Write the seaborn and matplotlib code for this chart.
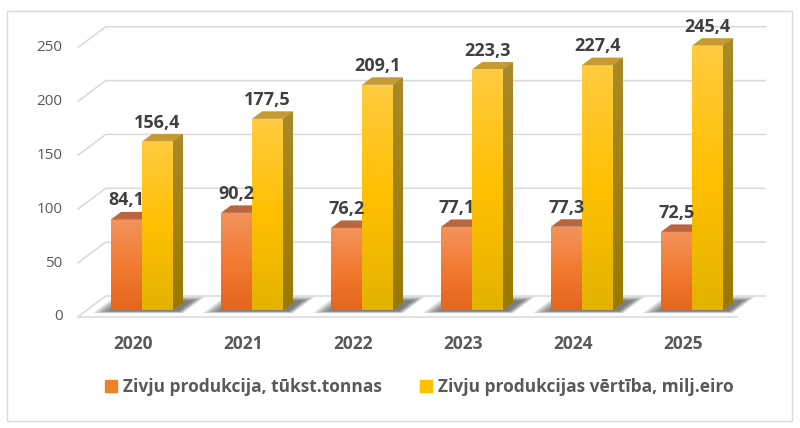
import matplotlib
matplotlib.use('Agg')
import matplotlib.pyplot as plt
import numpy as np
import pandas as pd
import seaborn as sns
from matplotlib.colors import LinearSegmentedColormap
from matplotlib.patches import Patch, Polygon, Rectangle

# chart data
years = ['2020', '2021', '2022', '2023', '2024', '2025']
production = [84.1, 90.2, 76.2, 77.1, 77.3, 72.5]
value = [156.4, 177.5, 209.1, 223.3, 227.4, 245.4]
series = ['Zivju produkcija, tūkst.tonnas', 'Zivju produkcijas vērtība, milj.eiro']
y_ticks = [0, 50, 100, 150, 200, 250]

# colours
orange, yellow = '#F07F2A', '#FFC000'
front_grad = [['#F3935C', '#F27B32', '#E5661C'], ['#FFCB40', '#FFC000', '#E3B300']]
top_col = ['#B9663E', '#C49B30']
side_grad = ['#A88A28', '#9A7900']
grid_col = '#D9D9D9'
text_dark, text_grey = '#404040', '#595959'

# pseudo 3d geometry (depth vector in data units, bar depth slot)
DX, DY = 28 / 110, 21 / 1.077
D0, D1 = 0.333, 0.69


def proj(x, v, d):
    return x + (d - D0) * DX, v + (d - D0) * DY


df = pd.DataFrame({
    'year': years * 2,
    'val': production + value,
    'series': [series[0]] * len(years) + [series[1]] * len(years),
})

sns.set_theme(style='white')
plt.rcParams['font.family'] = ['Open Sans', 'DejaVu Sans']

fig = plt.figure(figsize=(8, 4.28), dpi=100)
ax = fig.add_axes([0, 0, 1, 1])
sns.barplot(data=df, x='year', y='val', hue='series', palette=[orange, yellow],
            width=0.564, saturation=1, errorbar=None, legend=False, ax=ax,
            zorder=3)

x_lo, x_hi = -0.5, len(years) - 0.5

# back wall and left wall grid lines
for t in y_ticks:
    bx0, by = proj(x_lo, t, 1)
    bx1, _ = proj(x_hi, t, 1)
    fx, fy = proj(x_lo, t, 0)
    ax.plot([fx, bx0, bx1], [fy, by, by], color=grid_col, lw=1.1, zorder=1)
    ax.annotate(str(t), xy=(fx, fy), xytext=(-15, 0), textcoords='offset pixels',
                ha='right', va='center', fontsize=11, color=text_grey)
fx0, fy0 = proj(x_lo, 0, 0)
fx1, _ = proj(x_hi, 0, 0)
ax.plot([fx0, fx1], [fy0, fy0], color=grid_col, lw=1.1, zorder=1)

# soft shadow under each bar pair (stacked translucent layers)
for i in range(len(years)):
    for g in np.linspace(1.0, 0.05, 10):
        xl = i - 0.282 - 0.13 * g
        xr = i + 0.282 + 0.06 + 0.07 * g
        dl = D0 - 0.05 - 0.1 * g
        dh = min(1.0, D1 + 0.08 + 0.2 * g)
        pts = [proj(xl, 0, dl), proj(xr, 0, dl),
               proj(xr, 0, dh), proj(xl, 0, dh)]
        ax.add_patch(Polygon(pts, closed=True, color='#1E1E1E', alpha=0.08,
                             lw=0, zorder=2))

# gradients, top and side faces of the bars
for s, cont in enumerate(ax.containers):
    cmap = LinearSegmentedColormap.from_list('f%d' % s, front_grad[s][::-1])
    scmap = LinearSegmentedColormap.from_list('s%d' % s, side_grad[::-1])
    for bar in cont:
        x0, w, h = bar.get_x(), bar.get_width(), bar.get_height()
        bar.set_zorder(3 + s)
        bar.set_edgecolor('none')
        grad = np.linspace(0, 1, 64).reshape(-1, 1)
        im = ax.imshow(grad, extent=(x0, x0 + w, 0, h), origin='lower',
                       cmap=cmap, aspect='auto', zorder=3 + s + 0.1)
        im.set_clip_path(bar)
        top = [proj(x0, h, D0), proj(x0 + w, h, D0),
               proj(x0 + w, h, D1), proj(x0, h, D1)]
        ax.add_patch(Polygon(top, closed=True, color=top_col[s], lw=0,
                             zorder=3 + s + 0.2))
        if s == 1:
            side = [proj(x0 + w, 0, D0), proj(x0 + w, h, D0),
                    proj(x0 + w, h, D1), proj(x0 + w, 0, D1)]
            sp = Polygon(side, closed=True, color=side_grad[0], lw=0,
                         zorder=3 + s + 0.3)
            ax.add_patch(sp)
            sx = [p[0] for p in side]
            sy = [p[1] for p in side]
            sim = ax.imshow(grad, extent=(min(sx), max(sx), min(sy), max(sy)),
                            origin='lower', cmap=scmap, aspect='auto',
                            zorder=3 + s + 0.31)
            sim.set_clip_path(sp)
        ax.annotate(f'{h:.1f}'.replace('.', ','), xy=(x0 + w / 2, h),
                    xytext=(0, 14), textcoords='offset pixels', ha='center',
                    va='baseline', fontsize=13, fontweight='bold',
                    color=text_dark, zorder=10)

# category labels on the front edge of the floor
for i, yr in enumerate(years):
    lx, ly = proj(i, 0, 0)
    ax.annotate(yr, xy=(lx, ly), xytext=(0, -32), textcoords='offset pixels',
                ha='center', va='baseline', fontsize=12.5, fontweight='bold',
                color=text_grey)

handles = [Patch(color=orange), Patch(color=yellow)]
ax.legend(handles, series, loc='center', bbox_to_anchor=(0.524, 0.096),
          bbox_transform=fig.transFigure, ncol=2, frameon=False,
          handlelength=0.7, handleheight=0.7, handletextpad=0.35,
          columnspacing=2.2, labelcolor=text_grey,
          prop={'weight': 'bold', 'size': 12.5})

ax.set_xlim(-142 / 110, 658 / 110)
ax.set_ylim((310 - 428) / 1.077, 310 / 1.077)
ax.set_axis_off()

fig.patches.append(Rectangle((7 / 800, 7 / 428), 785 / 800, 410 / 428,
                             transform=fig.transFigure, fill=False,
                             edgecolor=grid_col, lw=1))

fig.savefig('out.png', dpi=100, facecolor='white')
